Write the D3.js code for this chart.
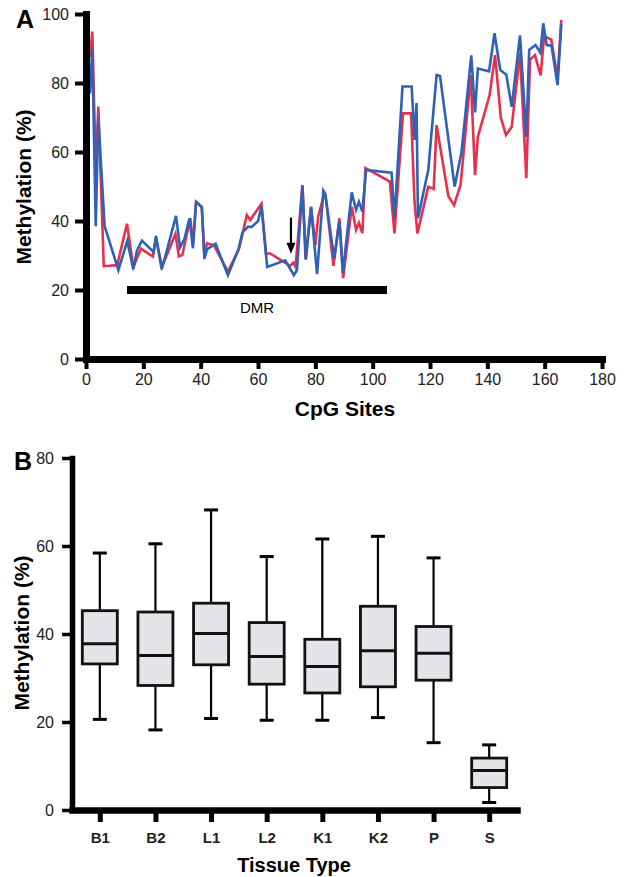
<!DOCTYPE html>
<html>
<head>
<meta charset="utf-8">
<script src="https://cdn.jsdelivr.net/npm/d3@7"></script>
<style>
  body { margin: 0; background: #fff; }
  svg { display: block; font-family: "Liberation Sans", Arial, sans-serif; }
  .axis text { fill: #222; }
</style>
</head>
<body>
<svg id="chart" width="626" height="877"></svg>
<script>
// Panel A: methylation per CpG site, two samples
var sitesRed = [1.4, 2.2, 3.4, 4.3, 6.2, 10.9, 14.3, 16.5, 19.2, 23.3, 24.4, 26.5, 31.2, 32.4, 33.6, 36.4, 37.3, 38.4, 40.4, 41.3, 42.2, 44.6, 49.5, 53.4, 56.1, 57.3, 61.2, 62.8, 64.2, 71.2, 72.3, 73.1, 75.5, 76.6, 78.5, 80.0, 81.0, 83.1, 83.6, 86.3, 88.4, 89.7, 92.7, 94.2, 95.2, 96.4, 97.5, 106.0, 107.6, 110.6, 113.4, 114.6, 115.6, 119.4, 121.3, 122.3, 126.4, 128.4, 130.7, 134.2, 135.7, 136.7, 140.8, 142.7, 144.7, 146.5, 148.5, 151.4, 153.6, 154.9, 156.6, 158.6, 159.8, 162.3, 164.5, 165.8];
var methRed = [87.6, 94.9, 55, 73.2, 26.9, 27.2, 39.2, 26.7, 32, 29.7, 35, 26.7, 36.3, 29.7, 30.1, 40.8, 33, 45.4, 44, 30, 33.5, 33, 25.3, 32, 41.7, 40.3, 45, 30.6, 30.6, 27, 27.9, 26.7, 50.4, 28.9, 44.1, 33, 41.3, 47.8, 47.5, 27, 40.8, 23.4, 44.1, 37.5, 39.5, 36.5, 55.3, 51.4, 36.4, 71.2, 71.2, 45.6, 36.4, 49.9, 49.3, 67.8, 47.2, 44.6, 50.6, 82.3, 53.3, 64.4, 76.5, 88.1, 70, 64.9, 67.3, 88.6, 52.4, 86.8, 88.1, 82.2, 93.6, 92.6, 81.5, 98.3];

var sitesBlue = [1.4, 2.2, 3.4, 4.3, 6.5, 11.3, 14.4, 16.5, 17.8, 19.5, 23.6, 24.4, 26.4, 28.1, 31.4, 32.8, 34.3, 36.1, 37.3, 38.4, 40.4, 41.3, 42.2, 45.2, 49.5, 53.1, 54.6, 56.5, 57.8, 60.0, 61.2, 63.2, 69.5, 72.5, 73.6, 75.5, 76.7, 78.5, 80.6, 82.8, 83.4, 86.6, 88.4, 89.6, 92.7, 94.2, 95.2, 96.4, 97.7, 106.6, 107.6, 110.4, 113.6, 114.6, 115.3, 115.8, 119.4, 122.3, 123.5, 128.6, 131.0, 134.4, 135.7, 136.7, 140.6, 142.5, 144.5, 146.6, 148.5, 151.4, 153.6, 154.6, 156.8, 158.5, 159.5, 160.7, 162.4, 164.5, 165.8];
var methBlue = [77, 90.2, 38.5, 69.9, 38.5, 25.8, 34.2, 26, 31.5, 34.3, 31, 35.7, 26, 31.1, 41.5, 32.3, 34.7, 40.8, 32.1, 45.6, 44.1, 29, 31.8, 33.4, 24.3, 31.6, 36.7, 38.3, 38.3, 39.9, 44.3, 26.7, 28.6, 24.3, 25.8, 50.3, 28.8, 44.1, 24.6, 48.8, 48, 29, 40, 25, 48.3, 43.2, 45.6, 42.7, 54.8, 54, 40.6, 79, 79, 63.5, 74.2, 40.8, 54.8, 82.3, 82, 50, 60, 88, 71.5, 84.2, 83.4, 94.4, 83.8, 82.4, 73.1, 93.8, 64.4, 89.6, 91, 88.8, 97.3, 91, 90.8, 79.4, 97];

var dmrRange = [14.3, 105];
var dmrLevel = 20;
var arrowSite = 71.5, arrowFrom = 41, arrowTo = 30.5;

// Panel B: box plots by tissue
var tissues = ["B1", "B2", "L1", "L2", "K1", "K2", "P", "S"];
var whiskerLow = [20.6, 18.2, 20.8, 20.4, 20.4, 21.0, 15.3, 1.7];
var q1 = [33.2, 28.3, 33.0, 28.6, 26.6, 28.0, 29.5, 5.1];
var median = [37.8, 35.1, 40.1, 34.9, 32.6, 36.2, 35.6, 9.0];
var q3 = [45.3, 45.0, 47.0, 42.6, 38.8, 46.3, 41.7, 11.8];
var whiskerHigh = [58.4, 60.5, 68.2, 57.6, 61.6, 62.2, 57.3, 14.8];

var svg = d3.select("#chart");

// ---------- panel A ----------
var xA = d3.scaleLinear().domain([0, 180]).range([86, 602]);
var yA = d3.scaleLinear().domain([0, 100]).range([359, 14]);

var line = d3.line()
    .x(function(d) { return xA(d[0]); })
    .y(function(d) { return yA(d[1]); });

svg.append("path")
    .datum(d3.zip(sitesRed, methRed))
    .attr("d", line)
    .attr("fill", "none")
    .attr("stroke", "#e8304c")
    .attr("stroke-width", 2.6)
    .attr("stroke-linejoin", "miter");

svg.append("path")
    .datum(d3.zip(sitesBlue, methBlue))
    .attr("d", line)
    .attr("fill", "none")
    .attr("stroke", "#2e62b6")
    .attr("stroke-width", 2.6)
    .attr("stroke-linejoin", "miter");

// DMR bar
svg.append("line")
    .attr("x1", xA(dmrRange[0]))
    .attr("x2", xA(dmrRange[1]))
    .attr("y1", yA(dmrLevel))
    .attr("y2", yA(dmrLevel))
    .attr("stroke", "#000")
    .attr("stroke-width", 8);

svg.append("text")
    .attr("x", xA((dmrRange[0] + dmrRange[1]) / 2))
    .attr("y", yA(dmrLevel) + 23)
    .attr("text-anchor", "middle")
    .style("font-size", "15px")
    .text("DMR");

// arrow
svg.append("line")
    .attr("x1", xA(arrowSite)).attr("x2", xA(arrowSite))
    .attr("y1", yA(arrowFrom)).attr("y2", yA(arrowTo) - 8)
    .attr("stroke", "#000")
    .attr("stroke-width", 2.2);
svg.append("path")
    .attr("d", "M" + (xA(arrowSite) - 4.5) + "," + (yA(arrowTo) - 11) +
               "L" + (xA(arrowSite) + 4.5) + "," + (yA(arrowTo) - 11) +
               "L" + xA(arrowSite) + "," + yA(arrowTo) + "Z")
    .attr("fill", "#000");

var axA = svg.append("g")
    .attr("class", "axis")
    .attr("transform", "translate(86,0)")
    .call(d3.axisLeft(yA).tickValues([0, 20, 40, 60, 80, 100]).tickSize(11).tickSizeOuter(0).tickPadding(6));

var axAx = svg.append("g")
    .attr("class", "axis")
    .attr("transform", "translate(0,359)")
    .call(d3.axisBottom(xA).tickValues(d3.range(0, 181, 20)).tickSize(10).tickSizeOuter(0).tickPadding(5));

[axA, axAx].forEach(function(g) {
  g.select(".domain").attr("stroke", "#000").attr("stroke-width", 7).attr("stroke-linecap", "square");
  g.selectAll(".tick line").attr("stroke", "#000").attr("stroke-width", 4);
  g.selectAll("text").style("font-size", "16px").attr("font-family", "Liberation Sans, Arial, sans-serif");
});

svg.append("text")
    .attr("transform", "translate(31,187) rotate(-90)")
    .attr("text-anchor", "middle")
    .style("font-size", "21px")
    .style("font-weight", "bold")
    .text("Methylation (%)");

svg.append("text")
    .attr("x", 345).attr("y", 416)
    .attr("text-anchor", "middle")
    .style("font-size", "21px")
    .style("font-weight", "bold")
    .text("CpG Sites");

svg.append("text")
    .attr("x", 16).attr("y", 28)
    .style("font-size", "25px")
    .style("font-weight", "bold")
    .text("A");

// ---------- panel B ----------
var xB = d3.scalePoint().domain(tissues).range([72, 517]).padding(0.5);
var yB = d3.scaleLinear().domain([0, 80]).range([810, 458]);
var boxW = 35, capW = 14;

var boxes = svg.append("g").selectAll("g")
    .data(tissues)
    .enter()
  .append("g");

boxes.append("line")
    .attr("x1", function(d) { return xB(d); })
    .attr("x2", function(d) { return xB(d); })
    .attr("y1", function(d, i) { return yB(whiskerLow[i]); })
    .attr("y2", function(d, i) { return yB(whiskerHigh[i]); })
    .attr("stroke", "#000").attr("stroke-width", 2.2);

boxes.append("line")
    .attr("x1", function(d) { return xB(d) - capW / 2; })
    .attr("x2", function(d) { return xB(d) + capW / 2; })
    .attr("y1", function(d, i) { return yB(whiskerHigh[i]); })
    .attr("y2", function(d, i) { return yB(whiskerHigh[i]); })
    .attr("stroke", "#000").attr("stroke-width", 3);

boxes.append("line")
    .attr("x1", function(d) { return xB(d) - capW / 2; })
    .attr("x2", function(d) { return xB(d) + capW / 2; })
    .attr("y1", function(d, i) { return yB(whiskerLow[i]); })
    .attr("y2", function(d, i) { return yB(whiskerLow[i]); })
    .attr("stroke", "#000").attr("stroke-width", 3);

boxes.append("rect")
    .attr("x", function(d) { return xB(d) - boxW / 2; })
    .attr("width", boxW)
    .attr("y", function(d, i) { return yB(q3[i]); })
    .attr("height", function(d, i) { return yB(q1[i]) - yB(q3[i]); })
    .attr("fill", "#e3e5e8")
    .attr("stroke", "#111").attr("stroke-width", 2.8);

boxes.append("line")
    .attr("x1", function(d) { return xB(d) - boxW / 2; })
    .attr("x2", function(d) { return xB(d) + boxW / 2; })
    .attr("y1", function(d, i) { return yB(median[i]); })
    .attr("y2", function(d, i) { return yB(median[i]); })
    .attr("stroke", "#111").attr("stroke-width", 3);

var axB = svg.append("g")
    .attr("class", "axis")
    .attr("transform", "translate(72,0)")
    .call(d3.axisLeft(yB).tickValues([0, 20, 40, 60, 80]).tickSize(10).tickSizeOuter(0).tickPadding(8));

var axBx = svg.append("g")
    .attr("class", "axis")
    .attr("transform", "translate(0,810)")
    .call(d3.axisBottom(xB).tickSize(12).tickSizeOuter(0).tickPadding(10));

axB.select(".domain").attr("stroke", "#000").attr("stroke-width", 5.5).attr("stroke-linecap", "square");
axB.selectAll(".tick line").attr("stroke", "#000").attr("stroke-width", 3.5);
axB.selectAll("text").style("font-size", "16px").attr("font-family", "Liberation Sans, Arial, sans-serif");

axBx.select(".domain").attr("stroke", "#000").attr("stroke-width", 6.5).attr("stroke-linecap", "square");
axBx.selectAll(".tick line").attr("stroke", "#000").attr("stroke-width", 5);
axBx.selectAll("text").style("font-size", "15px").style("font-weight", "bold").attr("font-family", "Liberation Sans, Arial, sans-serif");

svg.append("text")
    .attr("transform", "translate(29,633) rotate(-90)")
    .attr("text-anchor", "middle")
    .style("font-size", "21px")
    .style("font-weight", "bold")
    .text("Methylation (%)");

svg.append("text")
    .attr("x", 294).attr("y", 872)
    .attr("text-anchor", "middle")
    .style("font-size", "20px")
    .style("font-weight", "bold")
    .text("Tissue Type");

svg.append("text")
    .attr("x", 14).attr("y", 470)
    .style("font-size", "25px")
    .style("font-weight", "bold")
    .text("B");
</script>
</body>
</html>
